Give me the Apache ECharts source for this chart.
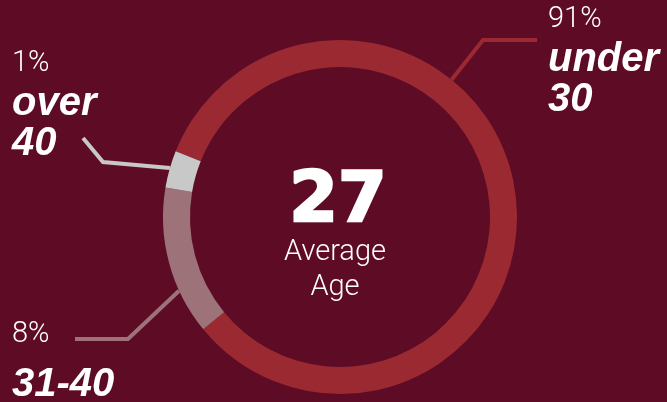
<!DOCTYPE html>
<html>
<head>
<meta charset="utf-8">
<script src="https://cdn.jsdelivr.net/npm/echarts@6/dist/echarts.min.js"></script>
<style>
html,body{margin:0;padding:0;background:#5e0b26;}
#chart{width:667px;height:402px;}
</style>
</head>
<body>
<div id="chart"></div>
<script>
// Categories and their printed percentages
const categories = ['under 30', '31-40', 'over 40'];
const percentLabels = ['91%', '8%', '1%'];
// Arc sizes as drawn in the ring (the infographic does not draw them to scale)
const arcShares = [83, 13.6, 3.4];
const colors = ['#9b2932', '#9d7279', '#c8c8c8'];
const centerValue = '27';
const centerCaption = ['Average', 'Age'];

const cx = 340, cy = 217, rOuter = 177, rInner = 150;

// leader line layout: anchor angle on the ring (deg, screen coords), elbow, end, label box
const leaders = [
  { ang: -50.9, elbow: [483, 40], end: [537, 40], lx: 548, ly: 0 },
  { ang: 155.4, elbow: [128, 339], end: [75, 339], lx: 12, ly: 315 },
  { ang: -163.9, elbow: [103, 162], end: [83, 138], lx: 12, ly: 44 }
];

const chart = echarts.init(document.getElementById('chart'), null, { renderer: 'canvas' });

const pctStyle = { fontSize: 29, fontWeight: 300, fontFamily: 'Roboto, Lato, "Liberation Sans", sans-serif', color: '#ffffff', lineHeight: 40 };
const nameStyle = { fontSize: 40, fontWeight: 'bold', fontStyle: 'italic', fontFamily: '"Liberation Sans", Arial, sans-serif', color: '#ffffff', lineHeight: 40 };
const name2Style = Object.assign({}, nameStyle, { lineHeight: 60 });

function labelText(i) {
  const parts = categories[i].split(' ');
  if (parts.length > 1) {
    return '{pct|' + percentLabels[i] + '}\n{name|' + parts[0] + '}\n{name|' + parts[1] + '}';
  }
  return '{pct|' + percentLabels[i] + '}\n{name2|' + categories[i] + '}';
}

chart.setOption({
  backgroundColor: '#5e0b26',
  animation: false,
  series: [{
    type: 'pie',
    center: [cx, cy],
    radius: [rInner, rOuter],
    startAngle: 158.2,
    clockwise: true,
    avoidLabelOverlap: false,
    silent: true,
    data: categories.map((c, i) => ({
      name: c,
      value: arcShares[i],
      itemStyle: { color: colors[i] },
      labelLine: { lineStyle: { color: colors[i], width: 4 } }
    })),
    label: {
      show: true,
      position: 'outside',
      formatter: p => labelText(p.dataIndex),
      rich: { pct: pctStyle, name: nameStyle, name2: name2Style }
    },
    labelLine: { show: true, smooth: false },
    labelLayout: function (p) {
      const L = leaders[p.dataIndex];
      const a = L.ang * Math.PI / 180;
      const start = [cx + rOuter * Math.cos(a), cy + rOuter * Math.sin(a)];
      return {
        x: L.lx, y: L.ly, align: 'left', verticalAlign: 'top',
        labelLinePoints: [start, L.elbow, L.end]
      };
    }
  }],
  graphic: [
    { type: 'text', x: 338, y: 203, style: { text: centerValue, font: 'bold 70px "DejaVu Sans"', fill: '#fff', stroke: '#fff', lineWidth: 2.5, textAlign: 'center', textVerticalAlign: 'middle' } },
    { type: 'text', x: 335, y: 253, style: { text: centerCaption[0], font: '300 29px Roboto, "Liberation Sans", sans-serif', fill: '#fff', textAlign: 'center', textVerticalAlign: 'middle' } },
    { type: 'text', x: 335, y: 288, style: { text: centerCaption[1], font: '300 29px Roboto, "Liberation Sans", sans-serif', fill: '#fff', textAlign: 'center', textVerticalAlign: 'middle' } }
  ]
});
</script>
</body>
</html>
